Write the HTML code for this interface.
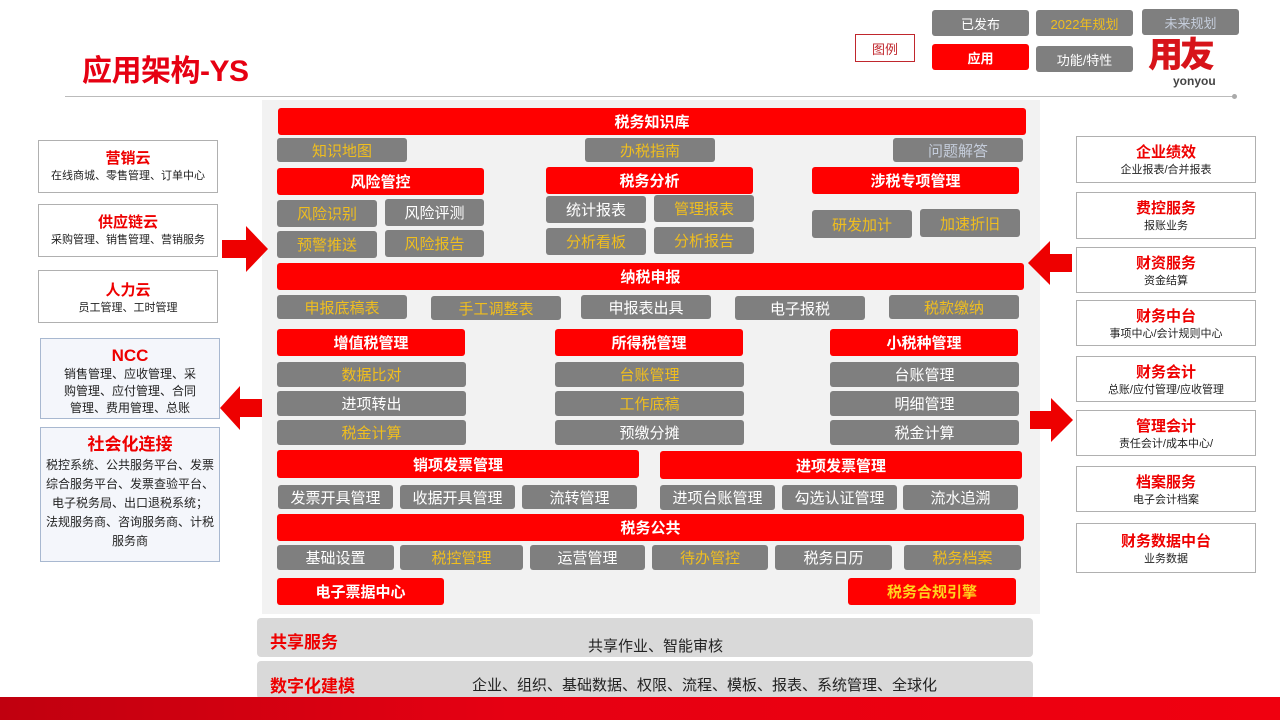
<!DOCTYPE html>
<html><head><meta charset="utf-8"><style>
*{margin:0;padding:0;box-sizing:border-box}
body{width:1280px;height:720px;position:relative;background:#fff;font-family:"Liberation Sans","Noto Sans CJK SC",sans-serif;overflow:hidden}
div{position:absolute}
.r{background:#ff0000;color:#fff;font-weight:bold;font-size:15px;display:flex;align-items:center;justify-content:center;border-radius:3px}
.g{background:#7f7f7f;color:#fff;font-size:15px;display:flex;align-items:center;justify-content:center;border-radius:3px}
.y{color:#f0be1e}
.b{color:#c5cddb}
.sb{border:1px solid #b0b0b0;background:#fff;text-align:center;font-size:11px;color:#222;line-height:15px}
.sb b{display:block;color:#ee0000;font-size:15px;line-height:20px}
.lb{border:1px solid #a8b8d0;background:#f4f6fb;text-align:center;font-size:12px;color:#222;line-height:18px;white-space:nowrap}
.lb b{display:block;color:#ee0000;font-size:17px;line-height:22px}
.band{background:#d9d9d9;border-radius:4px}
</style></head><body>
<div style="left:82px;top:46px;font-size:30px;font-weight:bold;color:#e60012;letter-spacing:-0.5px">应用架构-YS</div>
<div style="left:65px;top:96px;width:1170px;height:1px;background:#bbb"></div>
<div style="left:1232px;top:94px;width:5px;height:5px;border-radius:50%;background:#aaa"></div>
<div style="left:855px;top:34px;width:60px;height:28px;border:1px solid #c0272d;color:#c0272d;font-size:13px;display:flex;align-items:center;justify-content:center">图例</div>
<div class="g" style="left:932px;top:10px;width:97px;height:26px;font-size:13px">已发布</div>
<div class="g y" style="left:1036px;top:10px;width:97px;height:26px;font-size:13px">2022年规划</div>
<div class="g b" style="left:1142px;top:9px;width:97px;height:26px;font-size:13px">未来规划</div>
<div class="r" style="left:932px;top:44px;width:97px;height:26px;font-size:13px">应用</div>
<div class="g" style="left:1036px;top:46px;width:97px;height:26px;font-size:13px">功能/特性</div>
<div style="left:1148px;top:37px;font-size:35px;line-height:38px;font-weight:900;color:#d7141a;letter-spacing:-3px">用友</div>
<div style="left:1173px;top:74px;font-size:12px;font-weight:bold;color:#444">yonyou</div>

<div style="left:262px;top:100px;width:778px;height:514px;background:#f2f2f2"></div>
<div class="r" style="left:278px;top:108px;width:748px;height:27px">税务知识库</div>
<div class="g y" style="left:277px;top:138px;width:130px;height:24px">知识地图</div>
<div class="g y" style="left:585px;top:138px;width:130px;height:24px">办税指南</div>
<div class="g b" style="left:893px;top:138px;width:130px;height:24px">问题解答</div>
<div class="r" style="left:277px;top:168px;width:207px;height:27px">风险管控</div>
<div class="r" style="left:546px;top:167px;width:207px;height:27px">税务分析</div>
<div class="r" style="left:812px;top:167px;width:207px;height:27px">涉税专项管理</div>
<div class="g y" style="left:277px;top:200px;width:100px;height:27px">风险识别</div>
<div class="g" style="left:385px;top:199px;width:99px;height:27px">风险评测</div>
<div class="g y" style="left:277px;top:231px;width:100px;height:27px">预警推送</div>
<div class="g y" style="left:385px;top:230px;width:99px;height:27px">风险报告</div>
<div class="g" style="left:546px;top:196px;width:100px;height:27px">统计报表</div>
<div class="g y" style="left:654px;top:195px;width:100px;height:27px">管理报表</div>
<div class="g y" style="left:546px;top:228px;width:100px;height:27px">分析看板</div>
<div class="g y" style="left:654px;top:227px;width:100px;height:27px">分析报告</div>
<div class="g y" style="left:812px;top:210px;width:100px;height:28px">研发加计</div>
<div class="g y" style="left:920px;top:209px;width:100px;height:28px">加速折旧</div>
<div class="r" style="left:277px;top:263px;width:747px;height:27px">纳税申报</div>
<div class="g y" style="left:277px;top:295px;width:130px;height:24px">申报底稿表</div>
<div class="g y" style="left:431px;top:296px;width:130px;height:24px">手工调整表</div>
<div class="g" style="left:581px;top:295px;width:130px;height:24px">申报表出具</div>
<div class="g" style="left:735px;top:296px;width:130px;height:24px">电子报税</div>
<div class="g y" style="left:889px;top:295px;width:130px;height:24px">税款缴纳</div>
<div class="r" style="left:277px;top:329px;width:188px;height:27px">增值税管理</div>
<div class="r" style="left:555px;top:329px;width:188px;height:27px">所得税管理</div>
<div class="r" style="left:830px;top:329px;width:188px;height:27px">小税种管理</div>
<div class="g y" style="left:277px;top:362px;width:189px;height:25px">数据比对</div>
<div class="g" style="left:277px;top:391px;width:189px;height:25px">进项转出</div>
<div class="g y" style="left:277px;top:420px;width:189px;height:25px">税金计算</div>
<div class="g y" style="left:555px;top:362px;width:189px;height:25px">台账管理</div>
<div class="g y" style="left:555px;top:391px;width:189px;height:25px">工作底稿</div>
<div class="g" style="left:555px;top:420px;width:189px;height:25px">预缴分摊</div>
<div class="g" style="left:830px;top:362px;width:189px;height:25px">台账管理</div>
<div class="g" style="left:830px;top:391px;width:189px;height:25px">明细管理</div>
<div class="g" style="left:830px;top:420px;width:189px;height:25px">税金计算</div>
<div class="r" style="left:277px;top:450px;width:362px;height:28px">销项发票管理</div>
<div class="r" style="left:660px;top:451px;width:362px;height:28px">进项发票管理</div>
<div class="g" style="left:278px;top:485px;width:115px;height:24px">发票开具管理</div>
<div class="g" style="left:400px;top:485px;width:115px;height:24px">收据开具管理</div>
<div class="g" style="left:522px;top:485px;width:115px;height:24px">流转管理</div>
<div class="g" style="left:660px;top:485px;width:115px;height:25px">进项台账管理</div>
<div class="g" style="left:782px;top:485px;width:115px;height:25px">勾选认证管理</div>
<div class="g" style="left:903px;top:485px;width:115px;height:25px">流水追溯</div>
<div class="r" style="left:277px;top:514px;width:747px;height:27px">税务公共</div>
<div class="g" style="left:277px;top:545px;width:117px;height:25px">基础设置</div>
<div class="g y" style="left:400px;top:545px;width:123px;height:25px">税控管理</div>
<div class="g" style="left:530px;top:545px;width:115px;height:25px">运营管理</div>
<div class="g y" style="left:652px;top:545px;width:116px;height:25px">待办管控</div>
<div class="g" style="left:775px;top:545px;width:117px;height:25px">税务日历</div>
<div class="g y" style="left:904px;top:545px;width:117px;height:25px">税务档案</div>
<div class="r" style="left:277px;top:578px;width:167px;height:27px">电子票据中心</div>
<div class="r" style="left:848px;top:578px;width:168px;height:27px;color:#ffd21e">税务合规引擎</div>

<div class="band" style="left:257px;top:618px;width:776px;height:39px"></div>
<div style="left:270px;top:628px;font-size:17px;font-weight:bold;color:#ee0000">共享服务</div>
<div style="left:588px;top:635px;font-size:15px;color:#222">共享作业、智能审核</div>
<div class="band" style="left:257px;top:661px;width:776px;height:38px"></div>
<div style="left:270px;top:672px;font-size:17px;font-weight:bold;color:#ee0000">数字化建模</div>
<div style="left:472px;top:674px;font-size:15px;color:#222">企业、组织、基础数据、权限、流程、模板、报表、系统管理、全球化</div>
<div style="left:0;top:697px;width:1280px;height:23px;background:linear-gradient(90deg,#c0000f,#e60012 40%,#f0000f)"></div>

<div class="sb" style="left:38px;top:140px;width:180px;height:53px;padding-top:8px"><b>营销云</b>在线商城、零售管理、订单中心</div>
<div class="sb" style="left:38px;top:204px;width:180px;height:53px;padding-top:8px"><b>供应链云</b>采购管理、销售管理、营销服务</div>
<div class="sb" style="left:38px;top:270px;width:180px;height:53px;padding-top:10px"><b>人力云</b>员工管理、工时管理</div>
<div class="lb" style="left:40px;top:338px;width:180px;height:81px;padding-top:7px;line-height:17px"><b style="line-height:20px">NCC</b>销售管理、应收管理、采<br>购管理、应付管理、合同<br>管理、费用管理、总账</div>
<div class="lb" style="left:40px;top:427px;width:180px;height:135px;padding-top:6px;line-height:19px"><b>社会化连接</b>税控系统、公共服务平台、发票<br>综合服务平台、发票查验平台、<br>电子税务局、出口退税系统；<br>法规服务商、咨询服务商、计税<br>服务商</div>

<svg style="position:absolute;left:0;top:0" width="1280" height="720">
<polygon points="222,240 246,240 246,226 268,249 246,272 246,258 222,258" fill="#ee0000"/>
<polygon points="262,399 240,399 240,386 220,408 240,430 240,417 262,417" fill="#ee0000"/>
<polygon points="1072,254 1050,254 1050,241 1028,263 1050,285 1050,272 1072,272" fill="#ee0000"/>
<polygon points="1030,411 1051,411 1051,398 1073,420 1051,442 1051,429 1030,429" fill="#ee0000"/>
</svg>

<div class="sb" style="left:1076px;top:136px;width:180px;height:47px;padding-top:6px"><b>企业绩效</b>企业报表/合并报表</div>
<div class="sb" style="left:1076px;top:192px;width:180px;height:47px;padding-top:6px"><b>费控服务</b>报账业务</div>
<div class="sb" style="left:1076px;top:247px;width:180px;height:46px;padding-top:6px"><b>财资服务</b>资金结算</div>
<div class="sb" style="left:1076px;top:300px;width:180px;height:46px;padding-top:6px"><b>财务中台</b>事项中心/会计规则中心</div>
<div class="sb" style="left:1076px;top:356px;width:180px;height:46px;padding-top:6px"><b>财务会计</b>总账/应付管理/应收管理</div>
<div class="sb" style="left:1076px;top:410px;width:180px;height:46px;padding-top:6px"><b>管理会计</b>责任会计/成本中心/</div>
<div class="sb" style="left:1076px;top:466px;width:180px;height:46px;padding-top:6px"><b>档案服务</b>电子会计档案</div>
<div class="sb" style="left:1076px;top:523px;width:180px;height:50px;padding-top:8px"><b>财务数据中台</b>业务数据</div>
</body></html>
